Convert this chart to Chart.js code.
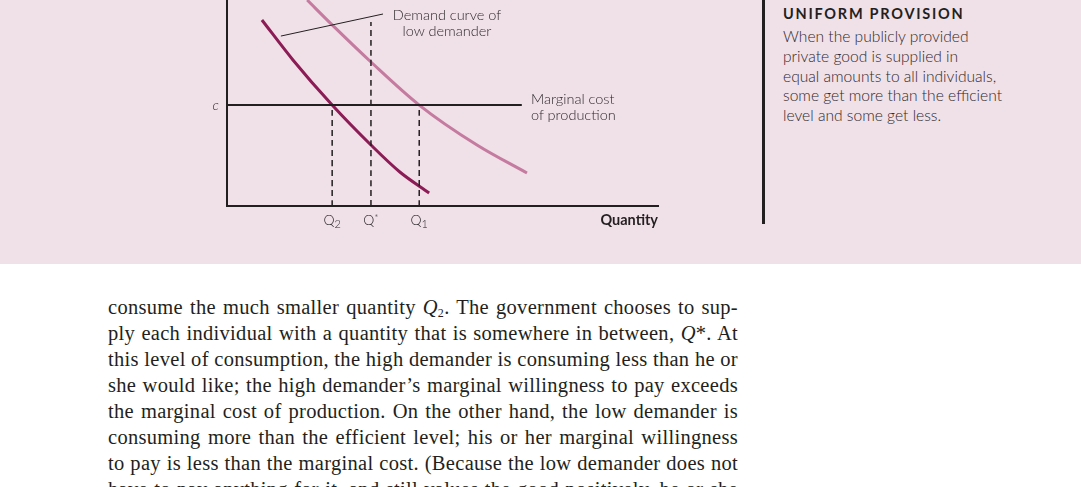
<!DOCTYPE html>
<html>
<head>
<meta charset="utf-8">
<script src="https://cdn.jsdelivr.net/npm/chart.js@4.4.1/dist/chart.umd.min.js"></script>
<style>
  body { margin: 0; width: 1081px; height: 487px; overflow: hidden; background: #fff; font-family: Lato, sans-serif; }
  #band { position: absolute; left: 0; top: 0; width: 1081px; height: 264px; background: #f0e0e8; }
  #wrap { position: absolute; left: 200px; top: 0; width: 480px; height: 240px; }
  .lbl { position: absolute; color: #2e2a2c; font-size: 14.5px; line-height: 16px; font-weight: 300; }
  .qt { position: absolute; top: 212px; transform: translateX(-50%); color: #2e2a2c; font-size: 14px; line-height: 16px; font-weight: 300; white-space: nowrap; }
  .qt sub { font-size: 11px; line-height: 0; vertical-align: -3px; }
  .qt sup { font-size: 10px; line-height: 0; vertical-align: 4px; }
  #bar { position: absolute; left: 762px; top: 0; width: 3px; height: 224px; background: #231f20; }
  #head { position: absolute; left: 783px; top: 5px; font-size: 14.5px; font-weight: bold; letter-spacing: 1.75px; color: #231f20; }
  #note { position: absolute; left: 783px; top: 27px; font-size: 15.6px; line-height: 19.8px; color: #2e2a2c; font-weight: 300; }
  #text { position: absolute; left: 108px; top: 294px; width: 630px; font-family: "Liberation Serif", serif; font-size: 20.5px; line-height: 26px; letter-spacing: 0.3px; color: #231f20; }
  #text div { text-align: justify; text-align-last: justify; height: 26px; }
  #text sub { font-size: 12px; line-height: 0; vertical-align: -3px; }
</style>
</head>
<body>
<div id="band"></div>
<div id="wrap"><canvas id="chart" width="480" height="240"></canvas></div>

<div class="lbl" style="left:377px;top:7px;width:140px;text-align:center">Demand curve of<br>low demander</div>
<div class="lbl" style="left:531px;top:91px">Marginal cost<br>of production</div>
<div class="lbl" style="left:538px;top:212px;width:120px;text-align:right;font-weight:bold;color:#231f20">Quantity</div>

<div id="bar"></div>
<div id="head">UNIFORM PROVISION</div>
<div id="note">When the publicly provided<br>private good is supplied in<br>equal amounts to all individuals,<br>some get more than the efficient<br>level and some get less.</div>

<div id="text">
  <div>consume the much smaller quantity <i>Q</i><sub>2</sub>. The government chooses to sup-</div>
  <div>ply each individual with a quantity that is somewhere in between, <i>Q</i>*. At</div>
  <div>this level of consumption, the high demander is consuming less than he or</div>
  <div>she would like; the high demander’s marginal willingness to pay exceeds</div>
  <div>the marginal cost of production. On the other hand, the low demander is</div>
  <div>consuming more than the efficient level; his or her marginal willingness</div>
  <div>to pay is less than the marginal cost. (Because the low demander does not</div>
  <div>have to pay anything for it, and still values the good positively, he or she</div>
</div>

<script>
// quantities marked on the x axis: letter + subscript / superscript
const qLabels = ['Q', 'Q', 'Q'];
const qSubs = ['2', '', '1'];
const qSups = ['', '*', ''];
const qValues = [2.44, 3.34, 4.46];

// marginal cost level
const costLabel = 'c';
const costValue = 4.9;
const costEnd = 6.84;

// demand of the low demander
const lowX = [0.81, 1.53, 2.44, 3.34, 4.01, 4.69];
const lowY = [9.03, 7.09, 4.9, 2.96, 1.65, 0.63];

// demand of the high demander
const highX = [1.86, 2.44, 3.34, 4.46, 5.8, 6.96];
const highY = [10, 8.79, 6.99, 4.9, 2.96, 1.6];

// top of the dashed guides (Q2, Q*, Q1)
const guideTop = [4.9, 8.93, 4.9];

// leader line for the low demand label
const leaderX = [1.25, 3.62];
const leaderY = [8.25, 9.32];

const toPts = (xs, ys) => xs.map((x, i) => ({x: x, y: ys[i]}));

const lineSet = (data, color, width, dash) => ({
  data: data,
  showLine: true,
  borderColor: color,
  borderWidth: width,
  borderDash: dash || [],
  pointRadius: 0,
  fill: false,
  cubicInterpolationMode: 'monotone'
});

const datasets = [];
qValues.forEach((q, i) => {
  datasets.push(lineSet([{x: q, y: 0}, {x: q, y: guideTop[i]}], '#231f20', 1.5, [6, 4]));
});
datasets.push(lineSet([{x: 0, y: costValue}, {x: costEnd, y: costValue}], '#231f20', 2));
datasets.push(lineSet(toPts(leaderX, leaderY), '#231f20', 1));
datasets.push(lineSet(toPts(highX, highY), '#c47b9f', 3));
datasets.push(lineSet(toPts(lowX, lowY), '#8c1c55', 3));

const ctx = document.getElementById('chart').getContext('2d');

const myChart = new Chart(ctx, {
  type: 'scatter',
  data: { datasets: datasets },
  options: {
    responsive: false,
    animation: false,
    layout: { padding: { left: 0, right: 22, top: 0, bottom: 0 } },
    plugins: {
      legend: { display: false },
      tooltip: { enabled: false }
    },
    scales: {
      x: {
        min: 0,
        max: 10,
        grid: { display: false, drawTicks: false },
        border: { display: true, color: '#231f20', width: 2 },
        afterBuildTicks: axis => { axis.ticks = qValues.map(v => ({value: v})); },
        afterFit: s => { s.height = 34; s.paddingLeft = 0; s.paddingRight = 0; },
        ticks: { display: false }
      },
      y: {
        min: 0,
        max: 10,
        grid: { display: false, drawTicks: false },
        border: { display: true, color: '#231f20', width: 2 },
        afterBuildTicks: axis => { axis.ticks = [{value: costValue}]; },
        afterFit: s => { s.width = 27; s.paddingTop = 0; s.paddingBottom = 0; },
        ticks: {
          padding: 8,
          color: '#2e2a2c',
          font: { family: 'Lato', size: 14, style: 'italic', weight: 300 },
          callback: () => costLabel
        }
      }
    }
  }
});

// x tick labels with real subscripts, placed through the x scale
const wrap = document.getElementById('wrap');
qValues.forEach((q, i) => {
  const el = document.createElement('div');
  el.className = 'qt';
  el.style.left = (200 + myChart.scales.x.getPixelForValue(q)) + 'px';
  el.innerHTML = qLabels[i] +
    (qSubs[i] ? '<sub>' + qSubs[i] + '</sub>' : '') +
    (qSups[i] ? '<sup>' + qSups[i] + '</sup>' : '');
  document.body.appendChild(el);
});
</script>
</body>
</html>
